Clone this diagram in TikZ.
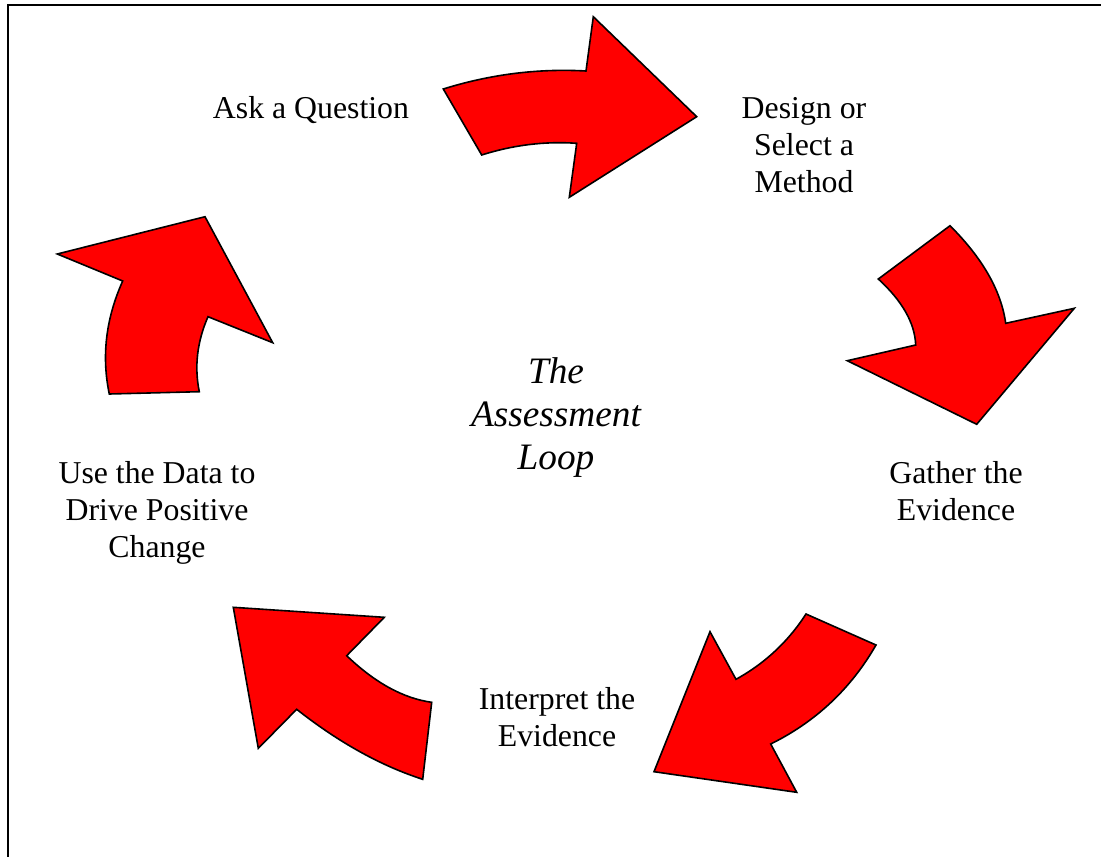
\documentclass[tikz,border=0pt]{standalone}
\usepackage{fontspec}
\setmainfont{Liberation Serif}
\usepackage{xcolor}
\usepackage{tikz}
\definecolor{arrowred}{RGB}{255, 0, 0}
\usetikzlibrary{positioning}

\begin{document}
\begin{tikzpicture}[
        x=1pt, y=-1pt,
        every node/.style={font=\fontsize{31.8}{37}\selectfont, align=center, inner sep=0pt},
        stage/.style={text=black},
        title/.style={font=\fontsize{37.3}{43}\selectfont\itshape},
        looparrow/.style={fill=arrowred, draw=black, line width=1.6pt, line join=miter}
    ]
        \useasboundingbox (0,0) rectangle (1101,857);

        % Frame
        \draw[line width=2pt] (7.5,857) -- (7.5,5) -- (1101,5);

        % Stages
        \node[stage] (ask) at (311,110) {Ask a Question};
        \node[stage] (design) at (804,145) {Design or\\Select a\\Method};
        \node[stage] (gather) at (956,491) {Gather the\\Evidence};
        \node[stage] (interpret) at (557,717) {Interpret the\\Evidence};
        \node[stage] (use) at (157,513) {Use the Data to\\Drive Positive\\Change};
        \node[title] (loop) at (556,418) {The\\Assessment\\Loop};

        % Arrows
        \draw[looparrow] (481.7,155) .. controls (513.2,145) and (544.9,141.1) .. (576.7,143.3) -- (569.3,197.3)
            -- (696.7,116.7) -- (593.3,16.7) -- (586,71) .. controls (538,68.3) and (490.4,74.3) .. (443.3,89) -- cycle;
        \draw[looparrow] (878.3,279) .. controls (902.3,301) and (914.8,323) .. (915.7,345) -- (847.3,360.7)
            -- (976.7,424.3) -- (1074.3,308.3) -- (1005.7,323.3) .. controls (1001.2,290.8) and (982.6,258.2) .. (950,225.7) -- cycle;
        \draw[looparrow] (876,645) .. controls (850.9,688.7) and (815.8,721.7) .. (770.7,744) -- (796.7,792.3)
            -- (654,771.7) -- (710,631.7) -- (736,679.3) .. controls (764.8,663.4) and (788.1,641.7) .. (806,614) -- cycle;
        \draw[looparrow] (346.7,655.7) .. controls (375,682.8) and (403.4,698.4) .. (431.7,702.3) -- (422.7,779.3)
            .. controls (380.7,765.7) and (338.7,742.4) .. (296.7,709.3) -- (258.3,748.3) -- (233.3,607.3) -- (384.3,617.3) -- cycle;
        \draw[looparrow] (109.3,394) .. controls (101.4,356.3) and (105.8,318.7) .. (122.7,281) -- (57.3,254)
            -- (205,216.7) -- (272.7,342.7) -- (208,316.7) .. controls (197.1,341.7) and (194.2,366.7) .. (199.3,391.7) -- cycle;

    \end{tikzpicture}
\end{document}
